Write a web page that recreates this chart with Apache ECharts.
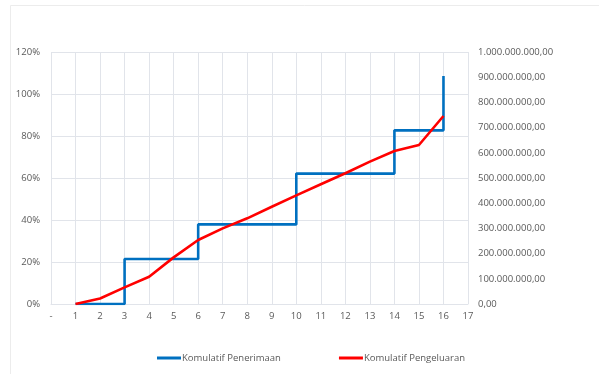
<!DOCTYPE html>
<html>
<head>
<meta charset="utf-8">
<script src="https://cdn.jsdelivr.net/npm/echarts@6/dist/echarts.min.js"></script>
<style>
  html, body { margin: 0; padding: 0; background: #fff; }
  #chart { width: 599px; height: 374px; }
</style>
</head>
<body>
<div id="chart"></div>
<script>
// Receipt milestones (cumulative %, left axis), stepped
const receiptWeeks = [1, 3, 6, 10, 14, 16];
const receiptPct = [0, 21.4, 37.9, 62.1, 82.7, 108.6];

// Cumulative spending per week (rupiah, right axis)
const spendWeeks = [1, 2, 3, 4, 5, 6, 7, 8, 9, 10, 11, 12, 13, 14, 15, 16];
const spendValues = [0, 22e6, 66e6, 108e6, 185e6, 254e6, 300e6, 340e6, 386e6, 431e6,
  475e6, 519e6, 565e6, 607e6, 631e6, 746e6];

const seriesNames = ['Komulatif Penerimaan', 'Komulatif Pengeluaran'];

const textColor = '#595959';
const gridColor = '#e1e4ea';
const font = 'Open Sans, Liberation Sans, sans-serif';

function rupiah(v) {
  const s = Math.round(v).toString().replace(/\B(?=(\d{3})+(?!\d))/g, '.');
  return s + ',00';
}

const chart = echarts.init(document.getElementById('chart'), null, { renderer: 'canvas' });

chart.setOption({
  animation: false,
  backgroundColor: '#ffffff',
  graphic: [{
    type: 'polyline',
    shape: { points: [[10.5, 374], [10.5, 5.5], [599, 5.5]] },
    style: { stroke: '#ececec', lineWidth: 1, fill: null },
    silent: true
  }],
  grid: { left: 51, right: 131, top: 52, bottom: 70 },
  legend: {
    data: seriesNames,
    left: 152,
    top: 348,
    icon: 'rect',
    itemWidth: 24,
    itemHeight: 3,
    itemGap: 58,
    textStyle: { color: textColor, fontSize: 9.5, fontFamily: font, padding: [0, 0, 0, -4] }
  },
  xAxis: {
    type: 'value',
    min: 0,
    max: 17,
    interval: 1,
    axisLine: { show: true, lineStyle: { color: gridColor } },
    axisTick: { show: false },
    axisLabel: {
      color: textColor, fontSize: 9.5, fontFamily: font, margin: 7,
      formatter: v => (v === 0 ? '-' : String(v))
    },
    splitLine: { show: true, lineStyle: { color: gridColor, width: 1 } }
  },
  yAxis: [{
    type: 'value',
    min: 0,
    max: 120,
    interval: 20,
    axisLine: { show: false },
    axisTick: { show: false },
    axisLabel: { color: textColor, fontSize: 9.5, fontFamily: font, margin: 11, formatter: '{value}%' },
    splitLine: { show: true, lineStyle: { color: gridColor, width: 1 } }
  }, {
    type: 'value',
    min: 0,
    max: 1e9,
    interval: 1e8,
    position: 'right',
    axisLine: { show: false },
    axisTick: { show: false },
    axisLabel: { color: textColor, fontSize: 9.5, fontFamily: font, margin: 10, formatter: rupiah },
    splitLine: { show: false }
  }],
  series: [{
    name: seriesNames[0],
    type: 'line',
    step: 'end',
    yAxisIndex: 0,
    data: receiptWeeks.map((w, i) => [w, receiptPct[i]]),
    showSymbol: false,
    lineStyle: { color: '#0070c0', width: 2.6 },
    itemStyle: { color: '#0070c0' },
    z: 2
  }, {
    name: seriesNames[1],
    type: 'line',
    yAxisIndex: 1,
    data: spendWeeks.map((w, i) => [w, spendValues[i]]),
    showSymbol: false,
    lineStyle: { color: '#ff0000', width: 2.6 },
    itemStyle: { color: '#ff0000' },
    z: 3
  }]
});
</script>
</body>
</html>
